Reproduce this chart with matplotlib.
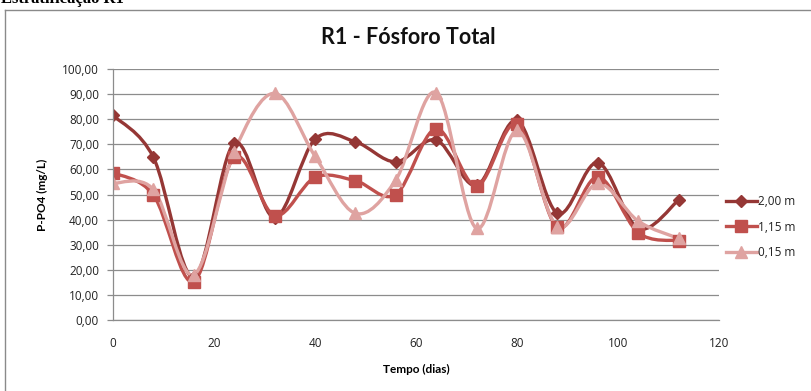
import matplotlib
matplotlib.use("Agg")
import matplotlib.pyplot as plt
from matplotlib.path import Path
from matplotlib.patches import PathPatch
from matplotlib.lines import Line2D
import numpy as np

# Sampling days and total phosphorus (mg/L) at each depth
dias = [0, 8, 16, 24, 32, 40, 48, 56, 64, 72, 80, 88, 96, 104, 112]
p_200 = [81.5, 64.8, 17.0, 70.4, 40.8, 72.0, 71.0, 63.0, 71.7, 53.6, 79.5, 42.5, 62.7, 36.5, 47.8]
p_115 = [58.7, 49.8, 15.3, 64.8, 41.6, 56.8, 55.5, 50.0, 76.2, 53.4, 78.0, 36.9, 57.0, 34.8, 31.6]
p_015 = [54.5, 52.0, 18.0, 67.0, 90.3, 65.3, 42.5, 55.8, 90.6, 36.5, 75.5, 37.2, 54.4, 39.4, 32.5]

series_labels = ["2,00 m", "1,15 m", "0,15 m"]
x_ticks = [0, 20, 40, 60, 80, 100, 120]
y_ticks = [0, 10, 20, 30, 40, 50, 60, 70, 80, 90, 100]

colors = ["#953735", "#C0504D", "#DFA3A1"]
markers = ["D", "s", "^"]
msizes = [6, 8, 8.5]

GRID = "#8C8C8C"


def smooth_path(x, y):
    """Cubic Bezier path through the points (Catmull-Rom style smoothing)."""
    pts = np.column_stack([x, y]).astype(float)
    n = len(pts)
    verts = [pts[0]]
    codes = [Path.MOVETO]
    for i in range(n - 1):
        p0 = pts[i - 1] if i > 0 else pts[i]
        p1 = pts[i]
        p2 = pts[i + 1]
        p3 = pts[i + 2] if i + 2 < n else pts[i + 1]
        c1 = p1 + (p2 - p0) / 6.0
        c2 = p2 - (p3 - p1) / 6.0
        verts += [c1, c2, p2]
        codes += [Path.CURVE4] * 3
    return Path(verts, codes)


fig = plt.figure(figsize=(8.11, 3.91), dpi=100)
W, H = 811, 391

ax = fig.add_axes([113 / W, (H - 320) / H, 606 / W, 251 / H])

for vals, c, m, ms, lab in zip([p_200, p_115, p_015], colors, markers, msizes, series_labels):
    ax.add_patch(PathPatch(smooth_path(dias, vals), facecolor="none",
                           edgecolor=c, lw=2.4, capstyle="round", joinstyle="round"))
    ax.plot(dias, vals, linestyle="none", marker=m, markersize=ms,
            color=c, markeredgecolor=c)

ax.set_xlim(0, 120)
ax.set_ylim(0, 100)
ax.set_xticks(x_ticks)
ax.set_yticks(y_ticks)
ax.set_yticklabels([f"{v:.2f}".replace(".", ",") for v in y_ticks])
ax.yaxis.grid(True, color=GRID, lw=0.9)
ax.set_axisbelow(True)
for s in ["top", "right"]:
    ax.spines[s].set_visible(False)
for s in ["left", "bottom"]:
    ax.spines[s].set_color(GRID)
    ax.spines[s].set_linewidth(0.9)
ax.tick_params(axis="y", length=4, color=GRID, width=0.9, pad=6,
               labelsize=8.5, labelcolor="#222222")
ax.tick_params(axis="x", length=0, pad=12, labelsize=8.5, labelcolor="#222222")
for lbl in ax.get_xticklabels() + ax.get_yticklabels():
    lbl.set_fontfamily("Open Sans")

ax.set_xlabel("Tempo (dias)", fontfamily="Lato", fontweight="bold",
              fontsize=8.5, labelpad=10)
ax.set_ylabel("P-PO4 (mg/L)", fontfamily="Lato", fontweight="bold",
              fontsize=8.5, labelpad=10)

fig.text(408 / W, 1 - 37 / H, "R1 - Fósforo Total", ha="center", va="center",
         fontfamily="Lato", fontweight="bold", fontsize=15.5, color="#111111")

# heading of the page section, clipped at the top edge
fig.text(1 / W, 1 - 3 / H, "Estratificação R1", ha="left", va="baseline",
         fontfamily="Liberation Serif", fontweight="bold", fontsize=12,
         color="#000000")

# chart frame
fig.add_artist(Line2D([5 / W, 1], [1 - 10 / H, 1 - 10 / H], transform=fig.transFigure,
                      color="#8A8A8A", lw=1.0))
fig.add_artist(Line2D([5 / W, 5 / W], [0, 1 - 10 / H], transform=fig.transFigure,
                      color="#8A8A8A", lw=1.0))

handles = [Line2D([0], [0], color=c, lw=2.4, marker=m, markersize=ms)
           for c, m, ms in zip(colors, markers, msizes)]
leg = fig.legend(handles, series_labels, loc="center left",
                 bbox_to_anchor=(726 / W, (H - 227) / H), frameon=False,
                 fontsize=8.5, handlelength=2.6, handletextpad=0.15,
                 labelspacing=1.05, borderpad=0, borderaxespad=0)
for t in leg.get_texts():
    t.set_fontfamily("Open Sans")
    t.set_color("#222222")

fig.savefig("out.png", dpi=100)
